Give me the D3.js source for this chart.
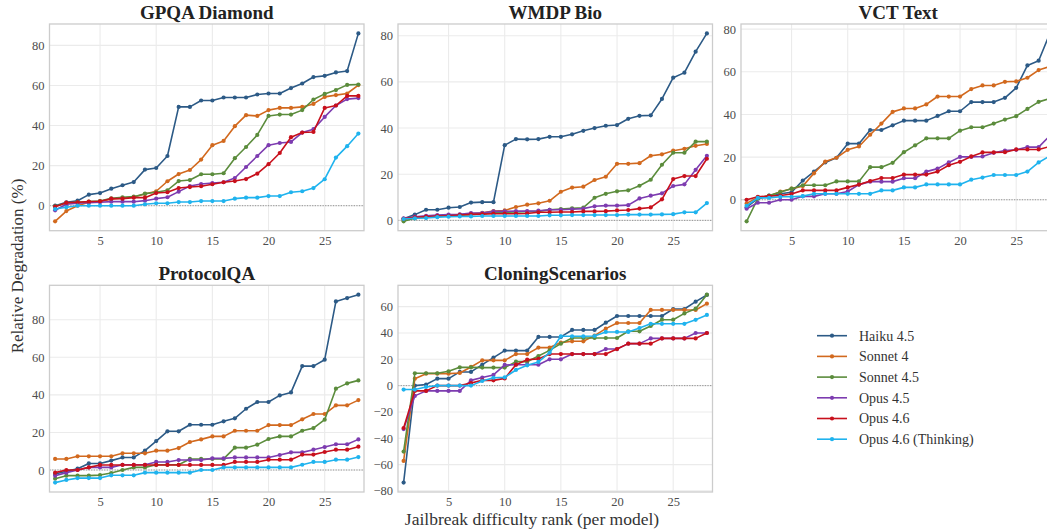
<!DOCTYPE html>
<html><head><meta charset="utf-8">
<script src="https://cdn.jsdelivr.net/npm/d3@7"></script>
<style>body{margin:0;background:#fff;overflow:hidden}svg{display:block}</style>
</head><body>
<svg id="chart" width="1047" height="529"></svg>
<script>
const models = ["Haiku 4.5","Sonnet 4","Sonnet 4.5","Opus 4.5","Opus 4.6","Opus 4.6 (Thinking)"];
const modelColors = ["#2c5a86","#d2691e","#5b8c3c","#7d3cb0","#c8101c","#1fb3ee"];
const ranks = d3.range(1,29);
const xTickValues = [5,10,15,20,25];
const panelTitles = ["GPQA Diamond","WMDP Bio","VCT Text","ProtocolQA","CloningScenarios"];
const yTicksStd = [0,20,40,60,80];
const yTicksCloning = [-80,-60,-40,-20,0,20,40,60];

const gpqa = [
 [0,1.7,2.5,5.5,6.3,8.5,10.2,11.8,18,18.8,24.8,49.3,49.3,52.5,52.5,54,54,54,55.5,56,56,58.7,61,64.2,64.8,66.5,67.2,86],
 [-7.8,-2.7,0,1.7,2.2,3.2,3.8,4.3,5.8,7.2,12.2,15.8,17.8,23,30.2,32.3,39.7,45.2,44.8,47.7,48.8,48.8,49.3,50.8,54.3,55.2,56,60.2],
 [-0.3,1.3,1.7,2,2.3,3.7,4.2,4.5,6,6.7,7.7,12.3,12.8,15.7,15.7,16.2,23.7,29.3,35.3,44.8,45.5,45.5,47.7,53,55.8,57.7,60.3,60.5],
 [-2.3,0.7,1.2,1.5,1.7,2,2,2,2.5,3.5,4.2,7,9.8,10.8,11.3,11.7,13.8,19.3,24.8,30.2,31.3,31.8,36.5,38.2,44.3,50,53.2,53.7],
 [-0.5,1.5,1.7,2,2.2,3.5,3.5,4,4,6.3,6.7,8.8,9.3,9.7,10.7,11.7,12.3,13.3,16,20.7,26.3,34.2,36.5,36.8,48.8,50,54.8,54.8],
 [-1.7,-0.8,0,0,0,0,0,0,0.7,1.2,1.2,1.8,1.8,2.3,2.3,2.3,3.5,4,4,4.8,4.8,6.7,7.2,8.8,13.2,24,29.7,36]
];
const wmdp = [
 [0.7,2.5,4.6,4.6,5.5,5.8,7.7,7.9,7.9,32.6,35.2,35.1,35.2,36.2,36.2,37.3,38.8,40,41,41.3,44,45.3,45.5,52.6,61.8,64,73.1,81],
 [0.4,1.2,1.6,1.9,2.2,2.5,2.9,3.3,4,4.3,5.8,6.8,7.4,8.5,12.4,14.2,14.6,17.5,18.9,24.5,24.5,24.8,28,28.6,30.2,31,32.3,33.1],
 [-0.4,0.9,1.4,1.7,1.9,2.2,2.5,2.9,3.3,3.5,3.6,3.8,3.9,4.6,4.9,5.2,5.5,9.8,11.5,12.6,13,15,17.6,24.1,29.3,29.3,34.1,34.1],
 [0.9,1.6,2,2.3,2.5,2.6,3.2,3.2,3.9,3.9,4,4,4.2,4.6,4.6,4.8,5.1,6.1,6.4,6.4,6.6,9.5,10.7,11.7,14.9,15.6,21.9,28],
 [0.7,1.3,1.6,1.9,2,2.3,2.6,2.7,2.9,2.9,2.9,3,3.5,3.5,3.6,3.6,3.9,3.9,4,4.3,4.5,5.1,5.6,9.1,17.9,19.2,19.2,26.7],
 [0.6,0.9,1,1.4,1.6,1.7,1.7,1.9,1.9,1.9,1.9,1.9,1.9,2.2,2.2,2.3,2.3,2.3,2.3,2.3,2.5,2.5,2.5,2.6,2.7,3.5,3.5,7.5]
];
const vct = [
 [-3.5,0.5,1.9,2.8,3.5,9,13.2,17.5,19.7,26.3,26.3,32.7,32.7,34.9,37.1,37.1,37.1,39.3,41.5,41.5,45.8,45.8,45.8,47.8,52.5,63,65.2,78],
 [-1.7,1.1,1.7,3.8,5.2,6.4,12.4,17.9,19.7,23.4,25,30.5,35.7,41.2,42.8,42.8,44.7,48.4,48.4,48.4,51.9,53.6,53.6,55.3,55.5,57.2,60.8,62.5],
 [-10.1,0.6,2,3.6,5.2,6.8,6.8,6.8,8.6,8.6,8.6,15.3,15.3,17.3,22.3,25.5,28.8,28.8,28.8,32.4,34,34,35.7,37.6,39.2,42.6,45.9,47.5],
 [-4.2,-1.4,-1.4,0,0,1.6,1.6,2.8,2.8,3.9,7.1,8.5,8.5,8.5,10.1,10.1,13.2,14.6,17.5,20.1,20.1,20.3,22,23.1,23.4,24.7,24.7,30],
 [0,1.4,1.7,2,2.7,4.4,4.4,4.4,4.4,5.8,7.1,8.8,10.2,10.2,11.8,11.8,11.8,13.2,16.2,17.8,20.3,22.2,22.2,22.3,23.6,23.6,23.6,25],
 [-2.8,0.9,0.9,1.4,1.4,1.7,2.8,2.8,2.8,2.8,2.8,2.8,4.4,4.4,5.8,5.8,7.2,7.2,7.2,7.2,9.4,10.4,11.6,11.6,11.6,13.2,17.5,20.5]
];
const protocolqa = [
 [-2.1,-0.7,0.7,3.5,3.5,5,6.7,6.7,10.3,15.4,20.6,20.6,24.1,24.1,24.1,25.9,27.5,32.6,36.2,36.2,39.7,41.3,55.3,55.3,58.7,89.7,91.5,93.3],
 [5.9,5.9,7.3,7.3,7.3,7.3,8.9,8.9,8.9,10.3,10.3,11.7,14.9,16.3,17.9,17.9,20.9,20.9,20.9,23.9,23.9,23.9,27,29.8,29.8,34.4,34.4,37.2],
 [-4.6,-3,-3,-3,-2.7,-1.6,0,1.4,1.4,2.8,2.8,2.8,5.9,5.9,5.9,5.9,11.9,11.9,13.5,16.5,17.9,17.9,20.9,22.3,26.8,43.3,46.1,47.7],
 [-3,-1.4,0,1.4,1.4,1.4,2.8,2.8,2.8,4.3,4.3,5.3,5.3,5.3,6.2,6.2,6.7,6.7,6.7,6.7,8,9.4,9.4,10.8,12.2,13.7,13.7,16.3],
 [-1.4,0,0,1.4,2.7,2.7,2.7,2.7,2.7,2.7,2.7,2.7,2.7,2.7,2.7,2.7,4.3,4.3,4.3,5.5,5.5,5.5,8.2,8.2,9.6,10.8,10.8,12.4],
 [-6.7,-5.3,-4.3,-4.3,-4.3,-2.8,-2.8,-2.8,-1.4,-1.4,-1.4,-1.4,-1.4,0,0,1.4,1.4,1.4,1.4,1.4,1.4,1.4,2.8,4.3,4.3,5.5,5.5,6.9]
];
const cloning = [
 [-73.7,0,0.8,5.3,5.3,10.4,10.4,15.9,21.3,26.6,26.6,26.6,37,37,37,42.3,42.3,42.3,47.8,52.9,52.9,52.9,52.9,52.9,58.2,58.2,63.8,68.9],
 [-57.2,5.3,9.1,9.1,9.1,9.6,14.2,19.2,19.2,19.2,24,24,28.9,28.9,32.7,33.7,33.7,38,43.3,47.6,47.6,47.6,57.5,57.5,57.5,57.5,57.5,62.3],
 [-50.1,9.4,9.4,9.4,10.9,13.9,13.9,13.7,13.7,13.7,18.2,18.2,22.5,26.8,31.9,36.2,36.2,36.2,36.2,36.2,41.3,41.3,45.3,50.1,50.1,54.9,58.5,69.1],
 [-33,-7.8,-4,-4,-4,-4,4,6.1,8.1,15.7,15.9,15.9,15.9,20,20,24,24,24,27.8,27.8,31.9,31.9,35.9,35.9,35.9,35.9,40,40],
 [-32.2,-4,-4,0,0,0,2,4,4,5.5,15.9,19.7,20.3,24,24,24,24,24,24,27.8,31.9,31.9,31.9,35.9,35.9,35.9,35.9,40],
 [-3,-3,-1,0,0,0,0,3.5,6,6.3,11.9,15.4,18,25,37.5,37.5,37.5,37.7,40.8,40.8,40.8,43.8,47,47,47,47,50,53.7]
];

const panelData = [gpqa, wmdp, vct, protocolqa, cloning];
const panelYTicks = [yTicksStd, yTicksStd, yTicksStd, yTicksStd, yTicksCloning];

const svg = d3.select("#chart");
const serif = "'Liberation Serif','Times New Roman',serif";
const colLeft = [49.5, 398, 741];
const rowTop = [24, 285.3];
const pw = 314.5, ph = 206.7;

panelData.forEach((data, pi) => {
  const col = pi % 3, row = Math.floor(pi / 3);
  const x0 = colLeft[col], y0 = rowTop[row];
  const all = data.flat();
  const mn = d3.min(all), mx = d3.max(all), r = mx - mn;
  const x = d3.scaleLinear().domain([0.5, 28.5]).range([x0, x0 + pw]);
  const y = d3.scaleLinear().domain([mn - 0.05*r, mx + 0.05*r]).range([y0 + ph, y0]);
  const g = svg.append("g");
  const clipId = "clip" + pi;
  svg.append("clipPath").attr("id", clipId).append("rect")
    .attr("x", x0).attr("y", y0).attr("width", pw).attr("height", ph);

  g.append("g").selectAll("line").data(panelYTicks[pi]).join("line")
    .attr("x1", x0).attr("x2", x0 + pw).attr("y1", d => y(d)).attr("y2", d => y(d))
    .attr("stroke", "#ebebeb").attr("stroke-width", 1.1);
  g.append("g").selectAll("line").data(xTickValues).join("line")
    .attr("y1", y0).attr("y2", y0 + ph).attr("x1", d => x(d)).attr("x2", d => x(d))
    .attr("stroke", "#ebebeb").attr("stroke-width", 1.1);

  g.append("line").attr("x1", x0).attr("x2", x0 + pw).attr("y1", y(0)).attr("y2", y(0))
    .attr("stroke", "#8a8a8a").attr("stroke-width", 0.9).attr("stroke-dasharray", "1.3,1.3");

  const ya = d3.axisLeft(y).tickValues(panelYTicks[pi]).tickSize(0).tickPadding(5).tickFormat(d3.format("d"));
  const yg = g.append("g").attr("transform", `translate(${x0},0)`).call(ya);
  const xa = d3.axisBottom(x).tickValues(xTickValues).tickSize(0).tickPadding(5);
  const xg = g.append("g").attr("transform", `translate(0,${y0 + ph})`).call(xa);
  [yg, xg].forEach(a => {
    a.select(".domain").remove();
    a.selectAll("text").attr("font-family", serif).attr("font-size", 12.5).attr("fill", "#4d4d4d");
  });

  const line = d3.line().x((d, i) => x(ranks[i])).y(d => y(d));
  const sg = g.append("g").attr("clip-path", `url(#${clipId})`);
  data.forEach((vals, si) => {
    sg.append("path").attr("d", line(vals)).attr("fill", "none")
      .attr("stroke", modelColors[si]).attr("stroke-width", 1.6).attr("stroke-linejoin", "round");
    sg.append("g").selectAll("circle").data(vals).join("circle")
      .attr("cx", (d, i) => x(ranks[i])).attr("cy", d => y(d)).attr("r", 2.1)
      .attr("fill", modelColors[si]);
  });

  g.append("rect").attr("x", x0).attr("y", y0).attr("width", pw).attr("height", ph)
    .attr("fill", "none").attr("stroke", "#cccccc").attr("stroke-width", 1.3);

  g.append("text").attr("x", x0 + pw/2).attr("y", y0 - 5).attr("text-anchor", "middle")
    .attr("font-family", serif).attr("font-weight", "bold").attr("font-size", 19)
    .attr("fill", "#222").text(panelTitles[pi]);
});

svg.append("text").attr("transform", "translate(23,266) rotate(-90)").attr("text-anchor", "middle")
  .attr("font-family", serif).attr("font-size", 17).attr("fill", "#333").text("Relative Degradation (%)");
svg.append("text").attr("x", 532).attr("y", 524.5).attr("text-anchor", "middle")
  .attr("font-family", serif).attr("font-size", 17.5).attr("fill", "#333").text("Jailbreak difficulty rank (per model)");

const lg = svg.append("g");
models.forEach((m, i) => {
  const ly = 335.7 + i * 20.7;
  lg.append("line").attr("x1", 817).attr("x2", 847).attr("y1", ly).attr("y2", ly)
    .attr("stroke", modelColors[i]).attr("stroke-width", 1.6);
  lg.append("circle").attr("cx", 832).attr("cy", ly).attr("r", 2.1).attr("fill", modelColors[i]);
  lg.append("text").attr("x", 859).attr("y", ly + 4.8).attr("font-family", serif)
    .attr("font-size", 14).attr("fill", "#333").text(m);
});
</script>
</body></html>
